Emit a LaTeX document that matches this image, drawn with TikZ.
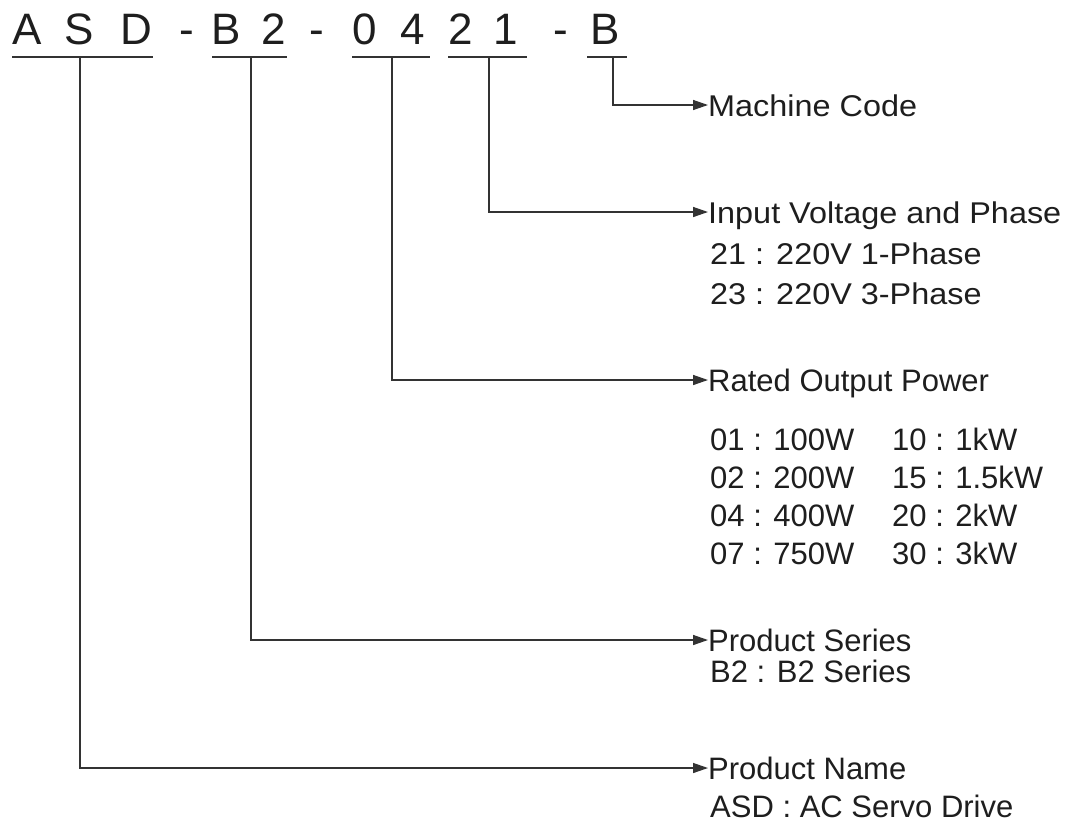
\documentclass[tikz,border=0pt]{standalone}
\usepackage{fontspec}
\setmainfont{Liberation Sans}
\newfontfamily\wfont[FakeStretch=1.08]{Liberation Sans}
\usetikzlibrary{arrows.meta}
\definecolor{tc}{HTML}{1E1E1E}
\definecolor{lc}{HTML}{333333}
\begin{document}
\begin{tikzpicture}[x=1pt,y=-1pt,
  line/.style={draw=lc, line width=1.4pt},
  arr/.style={line, -{Triangle[length=15pt,width=10pt]}},
  ch/.style={anchor=base, inner sep=0pt, font=\fontsize{44}{44}\selectfont, text=tc},
  head/.style={anchor=west, inner sep=0pt, text height=22pt, text depth=0pt, font=\fontsize{31}{36}\selectfont, text=tc},
  whead/.style={head, font=\wfont\fontsize{30}{36}\selectfont},
  det/.style={anchor=base west, inner sep=0pt, font=\fontsize{31}{36}\selectfont, text=tc},
  wdet/.style={det, font=\wfont\fontsize{30}{36}\selectfont}]
\useasboundingbox[fill=white] (0,0) rectangle (1073,823);

% model code characters
\node[ch] (c1) at (27,44) {A};
\node[ch] (c2) at (79.5,44) {S};
\node[ch] (c3) at (136.5,44) {D};
\node[ch] (c4) at (187,44) {-};
\node[ch] (c5) at (226.5,44) {B};
\node[ch] (c6) at (273.5,44) {2};
\node[ch] (c7) at (316.5,44) {-};
\node[ch] (c8) at (365,44) {0};
\node[ch] (c9) at (412.5,44) {4};
\node[ch] (c10) at (460.5,44) {2};
\node[ch] (c11) at (506,44) {1};
\node[ch] (c12) at (561,44) {-};
\node[ch] (c13) at (605,44) {B};

% underlines
\draw[line] (12,57) -- (153,57);
\draw[line] (212,57) -- (287,57);
\draw[line] (352,57) -- (430,57);
\draw[line] (448,57) -- (527,57);
\draw[line] (587,57) -- (627,57);
\coordinate (uA) at (80,57);
\coordinate (uB) at (251,57);
\coordinate (uC) at (392,57);
\coordinate (uD) at (489,57);
\coordinate (uE) at (613,57);

% labels
\node[whead] (mc) at (708,105) {Machine Code};

\node[whead] (iv) at (708,212) {Input Voltage and Phase};
\node[wdet] (iv1) at (710,264) {21 : 220V 1-Phase};
\node[wdet] (iv2) at (710,304) {23 : 220V 3-Phase};

\node[head] (rp) at (708,380) {Rated Output Power};
\node[det] (r1) at (710,450) {01 : 100W};
\node[det] (r2) at (710,488) {02 : 200W};
\node[det] (r3) at (710,526) {04 : 400W};
\node[det] (r4) at (710,564) {07 : 750W};
\node[det] (r5) at (892,450) {10 : 1kW};
\node[det] (r6) at (892,488) {15 : 1.5kW};
\node[det] (r7) at (892,526) {20 : 2kW};
\node[det] (r8) at (892,564) {30 : 3kW};

\node[head] (ps) at (708,640) {Product Series};
\node[det] (ps1) at (710,682) {B2 : B2 Series};

\node[head] (pn) at (708,768) {Product Name};
\node[det] (pn1) at (710,817) {ASD : AC Servo Drive};

% connectors
\draw[arr] (uE) |- (mc.west);
\draw[arr] (uD) |- (iv.west);
\draw[arr] (uC) |- (rp.west);
\draw[arr] (uB) |- (ps.west);
\draw[arr] (uA) |- (pn.west);
\end{tikzpicture}
\end{document}
